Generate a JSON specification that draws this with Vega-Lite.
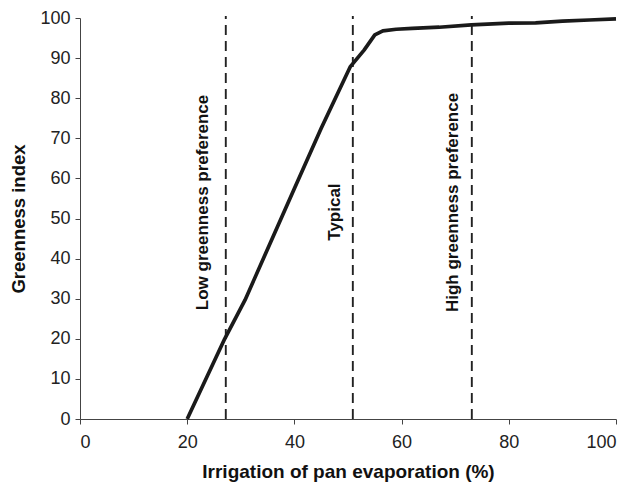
{
  "$schema": "https://vega.github.io/schema/vega-lite/v6.json",
  "width": 536,
  "height": 401,
  "autosize": {"type": "none"},
  "padding": {"left": 80, "top": 18, "right": 17, "bottom": 65},
  "background": "white",
  "config": {
    "view": {"stroke": null},
    "font": "Liberation Sans"
  },
  "datasets": {
    "curve": [
      {"x": 20, "y": 0},
      {"x": 27, "y": 20},
      {"x": 30.8, "y": 29.7},
      {"x": 40, "y": 57.5},
      {"x": 45, "y": 72.5},
      {"x": 50.4, "y": 87.8},
      {"x": 53, "y": 92},
      {"x": 55, "y": 95.8},
      {"x": 56.5, "y": 96.8},
      {"x": 59, "y": 97.2},
      {"x": 62, "y": 97.4},
      {"x": 67, "y": 97.7},
      {"x": 73, "y": 98.3},
      {"x": 80, "y": 98.7},
      {"x": 85, "y": 98.8},
      {"x": 90, "y": 99.2},
      {"x": 95, "y": 99.5},
      {"x": 100, "y": 99.8}
    ],
    "marks": [
      {"x": 27.2, "label": "Low greenness preference", "lx": 22.9, "ly": 54},
      {"x": 50.9, "label": "Typical", "lx": 47.6, "ly": 51.6},
      {"x": 73.1, "label": "High greenness preference", "lx": 69.6, "ly": 54}
    ]
  },
  "layer": [
    {
      "data": {"name": "marks"},
      "mark": {"type": "rule", "strokeDash": [10, 6], "strokeWidth": 1.9, "color": "#222"},
      "encoding": {
        "x": {"field": "x", "type": "quantitative"},
        "y": {"datum": 0, "type": "quantitative"},
        "y2": {"datum": 100.5}
      }
    },
    {
      "data": {"name": "curve"},
      "mark": {"type": "line", "color": "#1a1a1a", "strokeWidth": 3.7, "strokeJoin": "round"},
      "encoding": {
        "x": {
          "field": "x", "type": "quantitative",
          "scale": {"domain": [0, 100], "nice": false},
          "axis": {
            "title": "Irrigation of pan evaporation (%)",
            "values": [0, 20, 40, 60, 80, 100],
            "grid": false,
            "domainColor": "#444",
            "tickColor": "#444",
            "tickSize": 5,
            "labelFontSize": 18,
            "labelColor": "#222",
            "labelPadding": 9,
            "titleFontSize": 19,
            "titleFontWeight": "bold",
            "titleColor": "#111",
            "titleBaseline": "alphabetic",
            "titleY": 58
          }
        },
        "y": {
          "field": "y", "type": "quantitative",
          "scale": {"domain": [0, 100], "nice": false},
          "axis": {
            "title": "Greenness index",
            "values": [0, 10, 20, 30, 40, 50, 60, 70, 80, 90, 100],
            "grid": false,
            "domainColor": "#444",
            "tickColor": "#444",
            "tickSize": 5,
            "labelFontSize": 18,
            "labelColor": "#222",
            "labelPadding": 5,
            "titleFontSize": 18.5,
            "titleFontWeight": "bold",
            "titleColor": "#111",
            "titleBaseline": "middle",
            "titleX": -62
          }
        }
      }
    },
    {
      "data": {"name": "marks"},
      "mark": {"type": "text", "angle": 270, "align": "center", "baseline": "middle", "fontSize": 17, "fontWeight": "bold", "color": "#111"},
      "encoding": {
        "x": {"field": "lx", "type": "quantitative"},
        "y": {"field": "ly", "type": "quantitative"},
        "text": {"field": "label", "type": "nominal"}
      }
    }
  ]
}
